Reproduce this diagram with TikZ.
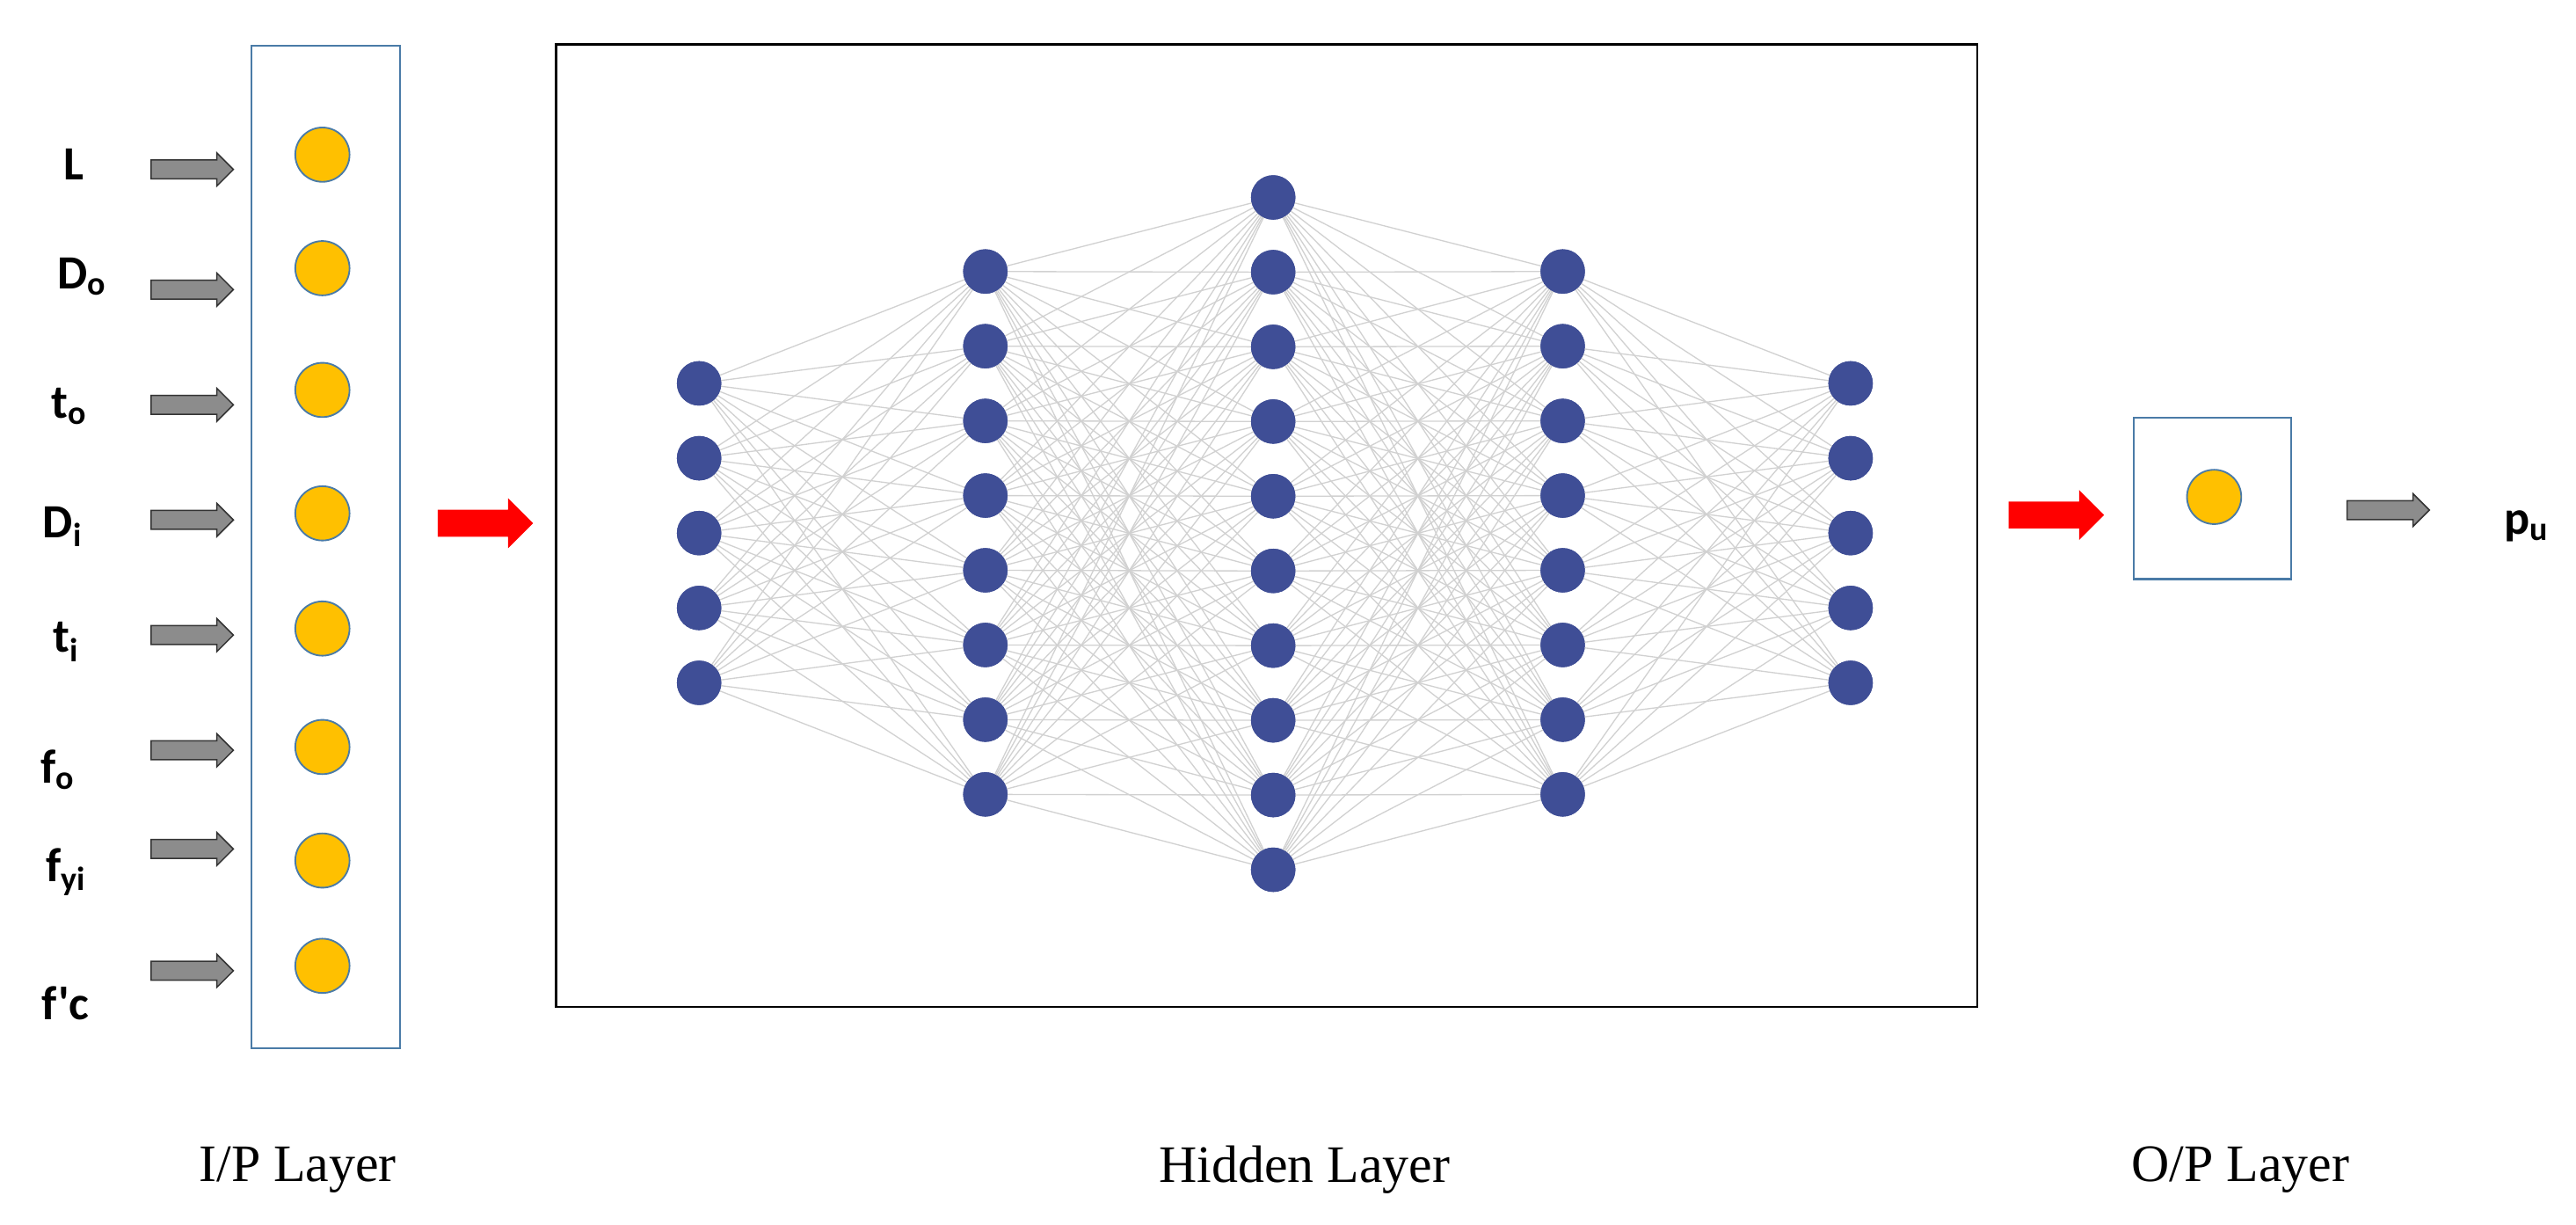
\documentclass[tikz,border=0pt]{standalone}
\usepackage{fontspec}
\setmainfont{Liberation Serif}
\newfontfamily\lab{Carlito}
\usetikzlibrary{shapes.arrows}
\definecolor{gold}{HTML}{FFC000}
\definecolor{nblue}{HTML}{3F4E96}
\definecolor{bblue}{HTML}{4A7BA7}
\tikzset{
 inode/.style={circle,draw=bblue,fill=gold,line width=1pt,minimum size=33pt,inner sep=0},
 hnode/.style={circle,fill=nblue,minimum size=27pt,inner sep=0},
 garrow/.style={single arrow,draw=black!80,fill=black!45,line width=0.8pt,minimum width=20pt,single arrow head extend=4pt,minimum height=50pt,inner xsep=0pt,inner ysep=5pt},
 rarrow/.style={single arrow,fill=red,minimum width=30pt,single arrow head extend=7pt,minimum height=58pt,inner xsep=0pt,inner ysep=8pt},
 lbl/.style={font=\lab\bfseries\fontsize{29}{31}\selectfont},
 captxt/.style={font=\fontsize{32}{34}\selectfont},
 edge/.style={draw=black!18,line width=0.7pt}
}
\begin{document}
\begin{tikzpicture}[x=1pt,y=-1pt]
\useasboundingbox (0,0) rectangle (1566,744);
\fill[white] (0,0) rectangle (1566,744);
% input layer
\node[draw=bblue,line width=1pt,minimum width=90pt,minimum height=609pt,inner sep=0] (ibox) at (198,332.5) {};
\foreach \y [count=\i] in {94,163,237,312,382,454,523,587}
  \node[inode] (in\i) at (196,\y) {};
\foreach \t/\x/\y [count=\i] in {L/45/100,D\textsubscript{o}/50/168,t\textsubscript{o}/42/247,D\textsubscript{i}/38/320,t\textsubscript{i}/40/390,f\textsubscript{o}/35/468,f\textsubscript{yi}/40/530,f'c/40/610}
  \node[lbl] (l\i) at (\x,\y) {\t};
\foreach \y [count=\i] in {103,176,246,316,386,456,516,590}
  \node[garrow] (ga\i) at (114,\y) {};
% hidden box
\node[draw=black,line width=1.2pt,minimum width=864pt,minimum height=585pt,inner sep=0] (hbox) at (770,319.5) {};
% hidden layers
\foreach \j/\y in {1/233,2/278.5,3/324,4/369.5,5/415} \node[hnode] (a\j) at (425,\y) {};
\foreach \j in {1,...,8} \node[hnode] (b\j) at (599,{165+(\j-1)*45.4}) {};
\foreach \j in {1,...,10} \node[hnode] (c\j) at (774,{120+(\j-1)*45.4}) {};
\foreach \j in {1,...,8} \node[hnode] (d\j) at (950,{165+(\j-1)*45.4}) {};
\foreach \j/\y in {1/233,2/278.5,3/324,4/369.5,5/415} \node[hnode] (e\j) at (1125,\y) {};
\foreach \i in {1,...,5} \foreach \j in {1,...,8} \draw[edge] (a\i.center) -- (b\j.center);
\foreach \i in {1,...,8} \foreach \j in {1,...,10} \draw[edge] (b\i.center) -- (c\j.center);
\foreach \i in {1,...,10} \foreach \j in {1,...,8} \draw[edge] (c\i.center) -- (d\j.center);
\foreach \i in {1,...,8} \foreach \j in {1,...,5} \draw[edge] (d\i.center) -- (e\j.center);
% redraw nodes on top
\foreach \y in {233,278.5,324,369.5,415} \node[hnode] at (425,\y) {};
\foreach \j in {1,...,8} \node[hnode] at (599,{165+(\j-1)*45.4}) {};
\foreach \j in {1,...,10} \node[hnode] at (774,{120+(\j-1)*45.4}) {};
\foreach \j in {1,...,8} \node[hnode] at (950,{165+(\j-1)*45.4}) {};
\foreach \y in {233,278.5,324,369.5,415} \node[hnode] at (1125,\y) {};
% red arrows
\node[rarrow] (r1) at (291,318) {};
\node[rarrow] (r2) at (1246,313) {};
% output
\node[draw=bblue,line width=1.2pt,minimum width=96pt,minimum height=98pt,inner sep=0] (obox) at (1345,303) {};
\node[inode] (out) at (1346,302) {};
\node[garrow] (go) at (1449,310) {};
\node[lbl] (pu) at (1536,320) {p\textsubscript{u}};
% captions
\node[captxt] (c1) at (181,711) {I/P Layer};
\node[captxt] (c2) at (793,711) {Hidden Layer};
\node[captxt] (c3) at (1362,711) {O/P Layer};
\end{tikzpicture}
\end{document}
